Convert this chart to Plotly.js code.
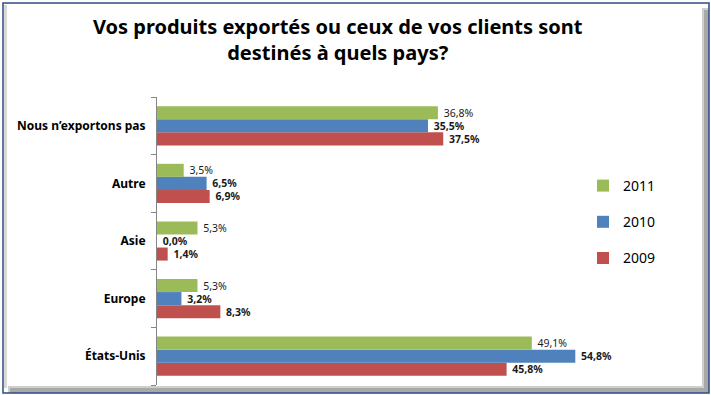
<!DOCTYPE html>
<html><head><meta charset="utf-8">
<script src="https://cdn.plot.ly/plotly-3.0.1.min.js"></script>
<style>body{margin:0;background:#fff}#c{width:711px;height:395px}</style>
</head><body><div id="c"></div>
<script>
const categories = ["États-Unis", "Europe", "Asie", "Autre", "Nous n’exportons pas"];
const v2009 = [45.8, 8.3, 1.4, 6.9, 37.5];
const v2010 = [54.8, 3.2, 0.0, 6.5, 35.5];
const v2011 = [49.1, 5.3, 5.3, 3.5, 36.8];
const seriesNames = ["2009", "2010", "2011"];
const colors = ["#C0504D", "#4F81BD", "#9BBB59"];

const fmt = v => '\u00a0' + v.toFixed(1).replace('.', ',') + '%';
const all = [v2009, v2010, v2011];
const traces = all.map((vals, i) => ({
  type: 'bar', orientation: 'h', name: seriesNames[i],
  y: categories, x: vals, legendgroup: 'g' + i, legendrank: 3 - i,
  marker: {color: colors[i]},
  text: vals.map(fmt), textposition: 'outside', cliponaxis: false,
  constraintext: 'none',
  textfont: {family: 'Noto Sans, sans-serif', size: 10.5, color: '#1a1a1a', weight: i < 2 ? 'bold' : 'normal'},
  hoverinfo: 'none'
}));

const L = 157, T = 97, W = 458, H = 288;
const px = p => (p - L) / W, py = p => 1 - (p - T) / H;

const layout = {
  width: 711, height: 395,
  margin: {l: L, r: 711 - L - W, t: T, b: 395 - T - H, pad: 0},
  paper_bgcolor: '#fff', plot_bgcolor: '#fff',
  barmode: 'group', bargap: 0.32, bargroupgap: 0,
  title: {text: 'Vos produits exportés ou ceux de vos clients sont<br>destinés à quels pays?',
    font: {family: 'Noto Sans, sans-serif', size: 20, color: '#000', weight: 'bold', lineposition: 'none'},
    x: 0.475, xanchor: 'center', y: 0.915, yanchor: 'top'},
  xaxis: {range: [0, 60], visible: false, fixedrange: true},
  yaxis: {showline: true, linecolor: '#868686', linewidth: 1,
    ticks: 'outside', ticklen: 5, tickcolor: '#868686', tickson: 'boundaries',
    ticklabelstandoff: 8,
    tickfont: {family: 'Noto Sans, sans-serif', size: 12, color: '#000', weight: 'bold'},
    showgrid: false, zeroline: false, fixedrange: true},
  showlegend: true,
  legend: {x: px(583), y: py(170), xanchor: 'left', yanchor: 'top',
    traceorder: 'grouped', tracegroupgap: 15,
    font: {family: 'Noto Sans, sans-serif', size: 14, color: '#000'},
    itemwidth: 30, bgcolor: 'rgba(0,0,0,0)'},
  shapes: [
    {type: 'rect', xref: 'paper', yref: 'paper', x0: px(702), x1: px(709), y0: py(393), y1: py(8),
      fillcolor: '#cfcfcf', line: {width: 0}, layer: 'below'},
    {type: 'rect', xref: 'paper', yref: 'paper', x0: px(8), x1: px(709), y0: py(393), y1: py(386),
      fillcolor: '#cfcfcf', line: {width: 0}, layer: 'below'},
    {type: 'rect', xref: 'paper', yref: 'paper', x0: px(704), x1: px(709), y0: py(393), y1: py(10),
      fillcolor: '#a8a8a8', line: {width: 0}, layer: 'below'},
    {type: 'rect', xref: 'paper', yref: 'paper', x0: px(10), x1: px(709), y0: py(393), y1: py(388),
      fillcolor: '#a8a8a8', line: {width: 0}, layer: 'below'},
    {type: 'rect', xref: 'paper', yref: 'paper', x0: px(4), x1: px(7), y0: py(388), y1: py(5),
      fillcolor: '#d8d8d8', line: {width: 0}, layer: 'below'},
    {type: 'rect', xref: 'paper', yref: 'paper', x0: px(3), x1: px(709), y0: py(393), y1: py(3),
      line: {color: '#2B4C85', width: 1.5}, layer: 'below'}
  ]
};
Plotly.newPlot('c', traces, layout, {staticPlot: true});
</script></body></html>
